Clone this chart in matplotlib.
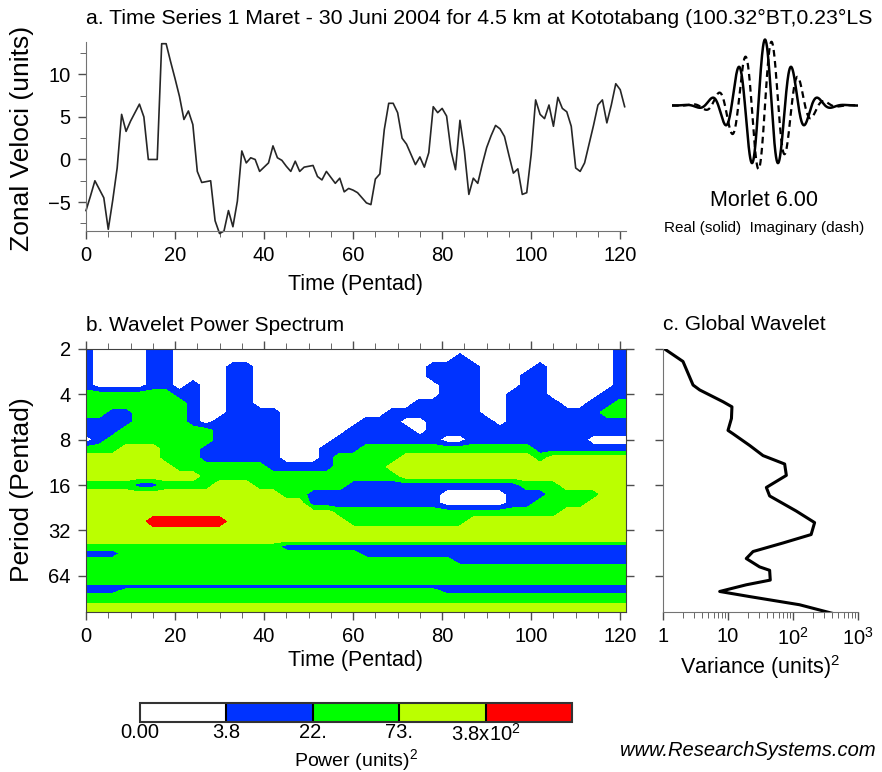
import numpy as np
import matplotlib
matplotlib.use("Agg")
import matplotlib.pyplot as plt
from matplotlib.ticker import MultipleLocator, NullLocator, NullFormatter

plt.rcParams['font.family'] = ['Liberation Sans', 'DejaVu Sans']
plt.rcParams['mathtext.fontset'] = 'custom'
plt.rcParams['mathtext.rm'] = 'Liberation Sans'
plt.rcParams['mathtext.it'] = 'Liberation Sans:italic'

#------- data -------#

# a. zonal velocity, one value per pentad index 0..121
zonal_wind = [
    -6.0, -4.3, -2.5, -3.5, -4.5, -8.2, -4.8, -1.0, 5.3, 3.3,
    4.5, 5.5, 6.5, 5.0, 0.0, 0.0, 0.0, 13.6, 13.6, 11.5,
    9.5, 7.4, 4.7, 5.7, 4.1, -1.4, -2.7, -2.6, -2.5, -7.2,
    -8.7, -8.4, -6.0, -7.9, -4.9, 1.0, -0.4, 0.2, 0.0, -1.4,
    -0.9, -0.4, 1.6, 0.2, -0.1, -0.8, -1.4, -0.2, -1.4, -0.9,
    -0.8, -0.7, -2.0, -2.4, -1.4, -2.1, -2.8, -2.2, -3.8, -3.4,
    -3.6, -3.9, -4.5, -5.1, -5.3, -2.3, -1.7, 3.5, 6.6, 6.6,
    5.5, 2.5, 1.8, 0.6, -0.6, 0.3, -0.9, 0.8, 6.2, 5.5,
    6.0, 5.1, 1.0, -1.2, 4.6, 1.0, -4.1, -2.2, -2.8, -0.6,
    1.4, 2.8, 4.0, 3.6, 2.7, 0.5, -1.6, -1.1, -4.1, -3.9,
    0.6, 7.0, 5.3, 4.8, 6.4, 3.9, 7.3, 6.0, 5.6, 3.9,
    -1.0, -1.4, -0.4, 1.8, 4.0, 6.4, 7.0, 4.3, 6.4, 8.9, 8.2, 6.2,
]
time_pentad = np.arange(len(zonal_wind))

# b. wavelet power, as the contour class (0..4) of each grid cell
power_time = np.arange(0, 126, 3)
power_period = [2.00, 2.30, 2.64, 3.03, 3.48, 4.00, 4.59, 5.28, 6.06, 6.96,
                8.00, 9.19, 10.56, 12.13, 13.93, 16.0, 18.38, 21.11, 24.25,
                27.86, 32.0, 36.76, 40.9, 45.6, 50.8, 56.6, 63.0, 70.2,
                75.8, 80.6, 87.1, 94.1, 101.6, 111.4]
power_class = [
    "100001 100000 000000 000000 000000 000000 000011",
    "100001 100000 000000 000000 000010 000000 000011",
    "100001 100001 100000 000000 001111 000010 000011",
    "100001 100001 100000 000000 001111 000110 000011",
    "100001 101001 100000 000000 000111 000110 000011",
    "222222 211001 100000 000000 000111 001110 000111",
    "222222 221001 100000 000000 011111 001111 001122",
    "221122 221001 111000 000001 111111 001111 111222",
    "111122 221011 111000 000111 001111 101111 111111",
    "111222 222211 111000 001111 101111 111111 111111",
    "012222 222211 111000 011111 111001 111111 110000",
    "222333 222111 111000 111222 222222 222211 111111",
    "333333 222111 111000 122222 333333 333323 333333",
    "333333 322222 221111 122223 333333 333333 333333",
    "333333 333222 222222 222222 333333 333333 333333",
    "222211 222233 322222 221111 111111 111222 333333",
    "333333 333333 333221 111111 111000 001112 222333",
    "333333 333333 333331 111111 111000 001122 223333",
    "333333 333333 333333 322222 222222 222222 333333",
    "333334 444443 333333 332222 222223 333333 333333",
    "333333 333333 333333 333333 333333 333333 333333",
    "333333 333333 333333 333333 333333 333333 333333",
    "222222 222222 222111 111111 111111 111111 111111",
    "111222 222222 222222 222111 111111 111111 111111",
    "222222 222222 222222 222222 222211 111111 111111",
    "222222 222222 222222 222222 222222 222222 222222",
    "222222 222222 222222 222222 222222 222222 222222",
    "222222 222222 222222 222222 222222 222222 222222",
    "111111 111111 111111 111111 111111 111111 111111",
    "111222 222222 222222 222222 222111 111111 111111",
    "222222 222222 222222 222222 222222 222222 222222",
    "222222 222222 222222 222222 222222 222222 222222",
    "333333 333333 333333 333333 333333 333333 333333",
    "333333 333333 333333 333333 333333 333333 333333",
]
power_labels = ["0.00", "3.8", "22.", "73.", "3.8x10$^2$"]
power_colors = ["#ffffff", "#0033ff", "#00ff00", "#bbff00", "#ff0000"]

# c. global wavelet spectrum
global_period = [2.0, 2.42, 3.47, 3.74, 4.48, 4.84, 5.78, 6.94, 7.3, 8.73,
                 10.2, 11.6, 13.8, 16.6, 18.9, 23.8, 28.4, 34.1, 38.8, 44.2,
                 49.2, 55.9, 58.9, 68.4, 73.5, 81.4, 88.0, 99.7, 114.0]
global_variance = [1.06, 2.03, 2.9, 3.67, 8.4, 11.5, 11.3, 10.0, 11.9, 21.5,
                   34.6, 74.4, 79.0, 38.9, 43.7, 112.0, 215.0, 190.0, 70.0, 24.3,
                   19.1, 30.6, 43.7, 44.7, 19.1, 7.45, 21.5, 126.0, 413.0]

morlet_param = 6.0

title_a = "a. Time Series 1 Maret - 30 Juni 2004 for 4.5 km at Kototabang (100.32°BT,0.23°LS"

#------- layout -------#
W, H = 882, 772


def box(left, top, right, bottom):
    return [left / W, 1 - bottom / H, (right - left) / W, (bottom - top) / H]


fig = plt.figure(figsize=(W / 100, H / 100), dpi=100)
ax_ts = fig.add_axes(box(86, 42, 626, 231))
ax_wv = fig.add_axes(box(86, 349, 626, 612))
ax_gl = fig.add_axes(box(663, 349, 858, 612))
ax_mo = fig.add_axes(box(672, 30, 858, 180))
cax = fig.add_axes(box(140, 703, 572, 722))

tick_kw = dict(direction='out', colors='0.3', labelcolor='black', labelsize=14.5, width=1.0)

# a. time series
ax_ts.plot(time_pentad, zonal_wind, color='0.15', lw=1.2, clip_on=False)
ax_ts.set_xlim(0, 121.3)
ax_ts.set_ylim(-8.4, 13.8)
ax_ts.spines[['top', 'right']].set_visible(False)
for s in ['left', 'bottom']:
    ax_ts.spines[s].set_color('0.45')
ax_ts.set_xticks(range(0, 121, 20))
ax_ts.xaxis.set_minor_locator(MultipleLocator(5))
ax_ts.set_yticks([-5, 0, 5, 10])
ax_ts.yaxis.set_minor_locator(MultipleLocator(2.5))
ax_ts.tick_params(which='major', length=6, pad=5, **tick_kw)
ax_ts.tick_params(which='minor', length=4, direction='out', colors='0.3')
ax_ts.set_xlabel("Time (Pentad)", fontsize=15.5, labelpad=6)
fig.text(22 / W, 1 - 138 / H, "Zonal Veloci (units)", rotation=90,
         ha='center', va='center', fontsize=19)
fig.text(86 / W, 1 - 18 / H, title_a, ha='left', va='center', fontsize=15.3)

# b. wavelet power spectrum
codes = np.array([[int(ch) for ch in row.replace(" ", "")] for row in power_class], dtype=float)
cf = ax_wv.contourf(power_time, power_period, codes,
                    levels=[-0.5, 0.5, 1.5, 2.5, 3.5, 4.5], colors=power_colors)
ax_wv.set_yscale('log', base=2)
ax_wv.set_ylim(111.4, 2.0)
ax_wv.set_xlim(0, 121.3)
ax_wv.set_yticks([2, 4, 8, 16, 32, 64])
ax_wv.set_yticklabels(['2', '4', '8', '16', '32', '64'])
ax_wv.yaxis.set_minor_locator(NullLocator())
ax_wv.set_xticks(range(0, 121, 20))
ax_wv.xaxis.set_minor_locator(MultipleLocator(5))
ax_wv.tick_params(which='major', length=6, pad=5, top=True, right=True, **tick_kw)
ax_wv.tick_params(which='minor', length=4, direction='out', colors='0.3', top=True)
for s in ax_wv.spines.values():
    s.set_color('0.25')
ax_wv.set_xlabel("Time (Pentad)", fontsize=15.5, labelpad=3)
fig.text(22 / W, 1 - 490 / H, "Period (Pentad)", rotation=90,
         ha='center', va='center', fontsize=19)
fig.text(86 / W, 1 - 326 / H, "b. Wavelet Power Spectrum", ha='left', va='center', fontsize=15)

# c. global wavelet
ax_gl.plot(global_variance, global_period, color='black', lw=2.2)
ax_gl.set_xscale('log')
ax_gl.set_yscale('log', base=2)
ax_gl.set_xlim(1, 1000)
ax_gl.set_ylim(111.4, 2.0)
ax_gl.set_yticks([2, 4, 8, 16, 32, 64])
ax_gl.yaxis.set_major_formatter(NullFormatter())
ax_gl.yaxis.set_minor_locator(NullLocator())
ax_gl.set_xticks([1, 10, 100, 1000])
ax_gl.set_xticklabels(['1', '10', '10$^2$', '10$^3$'])
ax_gl.spines[['top', 'right']].set_visible(False)
for s in ['left', 'bottom']:
    ax_gl.spines[s].set_color('0.45')
ax_gl.tick_params(which='major', length=6, pad=5, **tick_kw)
ax_gl.tick_params(which='minor', length=4, direction='out', colors='0.3')
ax_gl.set_xlabel("Variance (units)$^2$", fontsize=15.5, labelpad=3)
fig.text(663 / W, 1 - 325 / H, "c. Global Wavelet", ha='left', va='center', fontsize=15)

# Morlet wavelet sketch
t_m = np.linspace(-3.65, 3.65, 600)
env = np.pi ** -0.25 * np.exp(-t_m ** 2 / 2)
ax_mo.plot(t_m, env * np.cos(morlet_param * t_m), color='black', lw=1.8)
ax_mo.plot(t_m, env * np.sin(morlet_param * t_m), color='black', lw=1.6, dashes=(3, 2))
ax_mo.set_xlim(-3.65, 3.65)
ax_mo.set_ylim(-0.85, 0.86)
ax_mo.axis('off')
fig.text(764 / W, 1 - 200 / H, "Morlet %.2f" % morlet_param, ha='center', va='center', fontsize=15.5)
fig.text(764 / W, 1 - 228 / H, "Real (solid)  Imaginary (dash)", ha='center', va='center', fontsize=11)

# colour bar
cb = fig.colorbar(cf, cax=cax, orientation='horizontal',
                  ticks=[-0.5, 0.5, 1.5, 2.5, 3.5], drawedges=True)
cb.ax.set_xticklabels(power_labels)
cb.ax.tick_params(length=0, pad=1, labelsize=14.5)
cb.outline.set_edgecolor('0.2')
cb.outline.set_linewidth(1.5)
cb.dividers.set_color('black')
cb.dividers.set_linewidth(1.5)
fig.text(356 / W, 1 - 760 / H, "Power (units)$^2$", ha='center', va='center', fontsize=14)

fig.text(620 / W, 1 - 750 / H, "www.ResearchSystems.com", ha='left', va='center',
         fontsize=14.5, style='italic')

fig.savefig("out.png", dpi=100)
